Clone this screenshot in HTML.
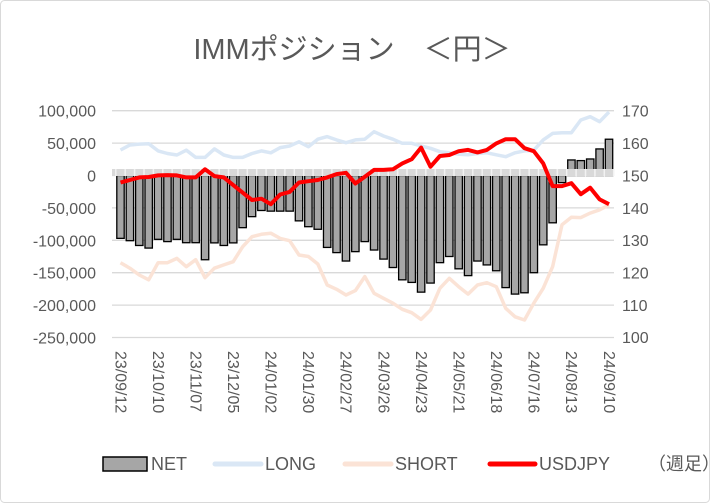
<!DOCTYPE html>
<html><head><meta charset="utf-8"><style>
body{margin:0;background:#fff}
svg{display:block;font-family:"Liberation Sans","Noto Sans CJK JP",sans-serif}
</style></head><body>
<svg id="c" width="710" height="503">
<rect x="0.5" y="0.5" width="709" height="502" rx="4" fill="#fff" stroke="#d9d9d9"/>
<text x="352" y="59" text-anchor="middle" font-size="29" fill="#595959">IMMポジション　＜円＞</text>
<g id="grid"></g><g id="marks"></g><g id="axes"></g>
<g font-size="18" fill="#595959">
<rect x="103" y="457" width="44" height="14" fill="#a6a6a6" stroke="#000" stroke-width="1.5"/>
<text x="151" y="470">NET</text>
<line x1="215" y1="464" x2="261" y2="464" stroke="#dae7f5" stroke-width="5" stroke-linecap="round"/>
<text x="265" y="470">LONG</text>
<line x1="345" y1="464" x2="391" y2="464" stroke="#fbe3d6" stroke-width="5" stroke-linecap="round"/>
<text x="395" y="470">SHORT</text>
<line x1="490" y1="464" x2="535" y2="464" stroke="#ff0000" stroke-width="5" stroke-linecap="round"/>
<text x="539" y="470">USDJPY</text>
<text x="648" y="470">（週足）</text>
</g>
</svg>
<script>
const xLabels=["23/09/12","23/10/10","23/11/07","23/12/05","24/01/02","24/01/30","24/02/27","24/03/26","24/04/23","24/05/21","24/06/18","24/07/16","24/08/13","24/09/10"];
const leftTicks=[100000,50000,0,-50000,-100000,-150000,-200000,-250000];
const rightTicks=[170,160,150,140,130,120,110,100];
const net=[-97000,-100600,-108000,-112000,-98500,-102000,-98500,-103700,-103700,-130000,-104000,-108000,-104000,-80500,-63500,-54000,-55000,-55000,-55000,-70000,-79000,-83000,-111000,-119000,-132000,-117500,-102000,-115000,-129000,-142000,-161000,-165000,-180000,-166000,-134500,-125000,-144000,-154500,-132000,-138000,-147000,-173000,-183000,-181000,-150000,-107000,-73000,-11000,24000,23000,25500,41000,56000];
const longPos=[39400,47000,48500,49000,38000,34000,31600,39000,28000,28000,41000,31600,28000,28000,34000,38000,35000,43000,45500,52000,44500,56000,60000,55000,50600,55000,56000,67600,61000,56000,49700,49700,45500,42000,36700,35000,32700,32000,34000,35000,32000,29000,35000,38000,39000,55000,65000,66000,66000,85600,90700,83000,98000];
const shortPos=[-134500,-143000,-153500,-161000,-134500,-134500,-128000,-140700,-130000,-157700,-143000,-138000,-133000,-110000,-94400,-90700,-89000,-97000,-100600,-122700,-125000,-136600,-169000,-175600,-184400,-177700,-156000,-181800,-189500,-197000,-206500,-211700,-222000,-207600,-174000,-158600,-171600,-183000,-169000,-165400,-171600,-205000,-218000,-223000,-197000,-174000,-140700,-76000,-64500,-65000,-58000,-53000,-45500];
const usdjpy=[147.8,148.6,149.4,149.5,150.0,150.1,150.0,149.4,149.4,151.9,149.8,149.4,147.0,144.7,142.4,142.8,141.1,144.1,144.9,147.8,148.2,148.6,149.4,150.4,150.8,147.5,149.6,151.7,151.7,151.9,153.7,155.0,158.6,152.7,156.0,156.3,157.5,157.9,157.1,157.9,159.9,161.2,161.2,158.4,157.5,153.7,146.7,146.7,147.6,144.2,146.2,142.6,141.1];

const NS="http://www.w3.org/2000/svg";
const X0=120.5,STEP=(609-120.5)/52;
const yL=v=>175.5-v*32.4/50000;
const yR=v=>110.7+(170-v)*3.236;
const xi=i=>X0+i*STEP;
function mk(tag,attrs,parent){const e=document.createElementNS(NS,tag);for(const k in attrs)e.setAttribute(k,attrs[k]);parent.appendChild(e);return e;}
const grid=document.getElementById('grid'),marks=document.getElementById('marks'),axes=document.getElementById('axes');
leftTicks.forEach((v,i)=>{
  const g=mk('line',{x1:112,x2:614,y1:yL(v),y2:yL(v),stroke:'#d9d9d9','stroke-width':1.3},grid);
  
  
  const t=mk('text',{x:96,y:yL(v)+6,'text-anchor':'end','font-size':16,fill:'#595959'},axes);
  t.textContent=v.toLocaleString('en-US');
  
  
});
rightTicks.forEach(v=>{
  const t=mk('text',{x:622,y:yR(v)+6,'font-size':16,fill:'#595959'},axes);
  t.textContent=v;
  
  
});
function line(arr,f,color,w,name){
  const p=mk('polyline',{points:arr.map((v,i)=>xi(i).toFixed(1)+','+f(v).toFixed(1)).join(' '),fill:'none',stroke:color,'stroke-width':w,'stroke-linejoin':'round'},marks);
  
  
}
line(longPos,yL,'#dae7f5',3.5,'long-line');
line(shortPos,yL,'#fbe3d6',3.5,'short-line');
net.forEach((v,i)=>{
  const y0=yL(0),y1=yL(v);
  const r=mk('rect',{x:xi(i)-3.7,y:Math.min(y0,y1),width:7.4,height:Math.abs(y1-y0),fill:'#a6a6a6',stroke:'#000','stroke-width':1.3},marks);
  
  
});
const band=mk('rect',{x:112,y:169,width:502,height:7,fill:'#d9d9d9'},marks);


for(let i=0;i<=53;i++){
  const tk=mk('line',{x1:xi(i)-STEP/2,x2:xi(i)-STEP/2,y1:169,y2:176,stroke:'#f2f2f2','stroke-width':1.5},marks);
  
  
}
line(usdjpy,yR,'#ff0000',4,'usdjpy-line');
xLabels.forEach((s,i)=>{
  const x=xi(i*4)-1,y=351;
  const t=mk('text',{x:x,y:y,transform:`rotate(90 ${x} ${y})`,'font-size':16,fill:'#595959','dominant-baseline':'middle'},axes);
  t.textContent=s;
  
  
});
</script>
</body></html>
